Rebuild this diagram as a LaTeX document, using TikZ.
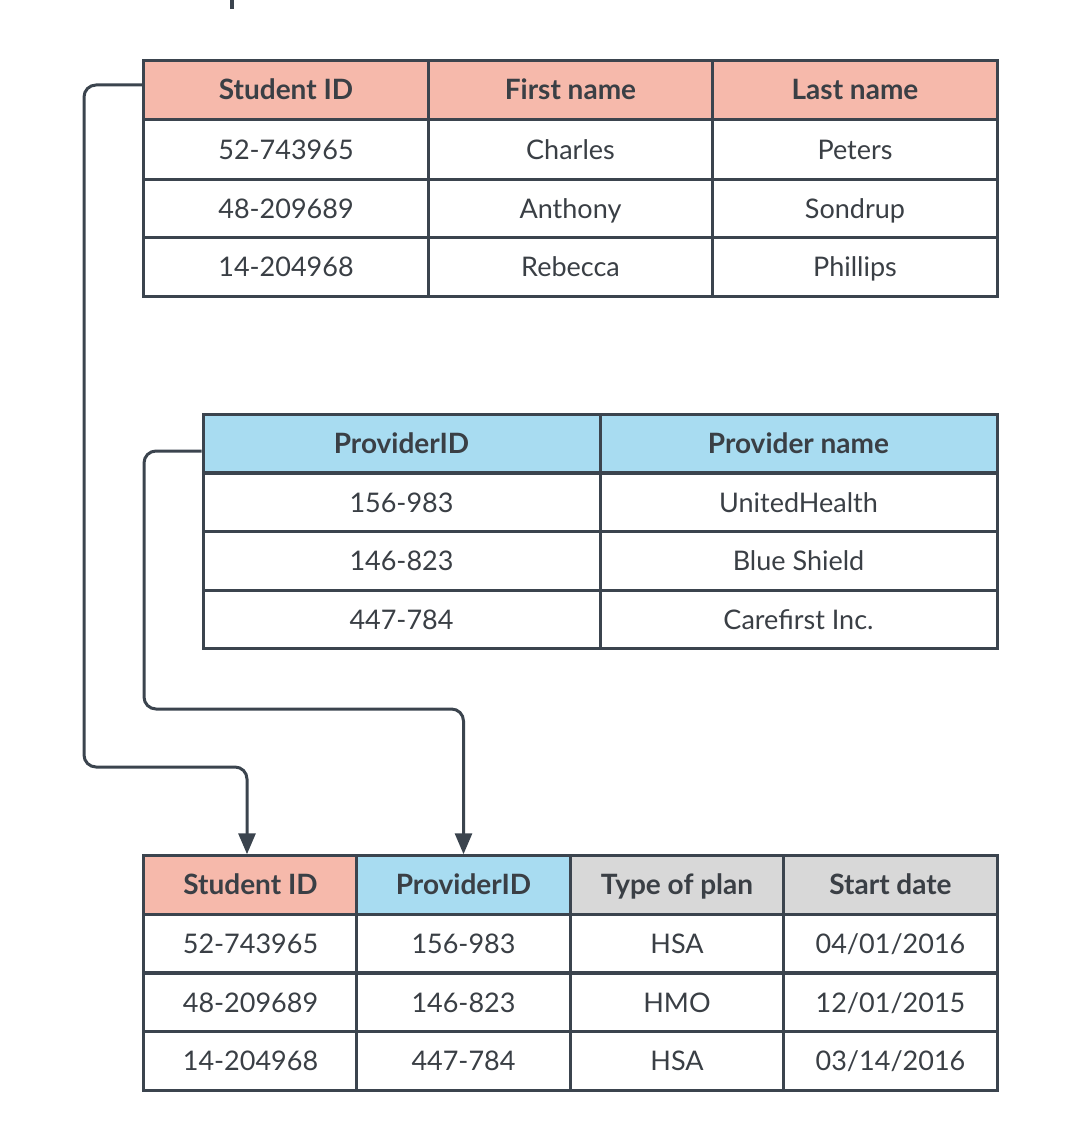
\documentclass[tikz,border=0pt]{standalone}
\usepackage{fontspec}
\setmainfont{Lato}
\usetikzlibrary{arrows.meta}

\definecolor{linec}{HTML}{3B444E}
\definecolor{textc}{HTML}{3A3F45}
\definecolor{studentred}{HTML}{F6B9AB}
\definecolor{providerblue}{HTML}{A8DCF1}
\definecolor{plangray}{HTML}{D8D8D8}

\tikzset{
  cell/.style={draw=linec, line width=3pt, fill=white, text=textc, inner sep=0pt,
    text height=19pt, text depth=0pt, font=\fontsize{27}{32}\selectfont},
  head/.style={cell, font=\fontsize{28}{32}\selectfont\bfseries},
  link/.style={draw=linec, line width=3pt, rounded corners=12pt, -{Triangle[width=17pt,length=21pt]}}
}

\begin{document}
\begin{tikzpicture}[x=1pt,y=-1pt]
			\useasboundingbox (0,0) rectangle (1080,1145);
			\draw[linec, line width=4pt] (232,0) -- (232,9);
			% students
			\begin{scope}[every node/.append style={minimum width=284.3pt, minimum height=59pt}]
			\node[head, fill=studentred] (a1) at (286,90.5) {Student ID};
			\node[head, fill=studentred] (a2) at (570.5,90.5) {First name};
			\node[head, fill=studentred] (a3) at (855,90.5) {Last name};
			\node[cell] (a11) at (286,149.5) {52-743965};
			\node[cell] (a12) at (570.5,149.5) {Charles};
			\node[cell] (a13) at (855,149.5) {Peters};
			\node[cell] (a21) at (286,208.5) {48-209689};
			\node[cell] (a22) at (570.5,208.5) {Anthony};
			\node[cell] (a23) at (855,208.5) {Sondrup};
			\node[cell] (a31) at (286,267) {14-204968};
			\node[cell] (a32) at (570.5,267) {Rebecca};
			\node[cell] (a33) at (855,267) {Phillips};
			\end{scope}
			% providers
			\begin{scope}[every node/.append style={minimum width=397pt, minimum height=58.7pt}]
			\node[head, fill=providerblue] (b1) at (401.5,443.5) {ProviderID};
			\node[head, fill=providerblue] (b2) at (798.5,443.5) {Provider name};
			\node[cell] (b11) at (401.5,502.5) {156-983};
			\node[cell] (b12) at (798.5,502.5) {UnitedHealth};
			\node[cell] (b21) at (401.5,561) {146-823};
			\node[cell] (b22) at (798.5,561) {Blue Shield};
			\node[cell] (b31) at (401.5,619.5) {447-784};
			\node[cell] (b32) at (798.5,619.5) {Carefirst Inc.};
			\end{scope}
			% plans
			\begin{scope}[every node/.append style={minimum width=213.3pt, minimum height=58.5pt}]
			\node[head, fill=studentred] (c1) at (250.5,885) {Student ID};
			\node[head, fill=providerblue] (c2) at (463.5,885) {ProviderID};
			\node[head, fill=plangray] (c3) at (677,885) {Type of plan};
			\node[head, fill=plangray] (c4) at (890.5,885) {Start date};
			\node[cell] (c11) at (250.5,943.5) {52-743965};
			\node[cell] (c12) at (463.5,943.5) {156-983};
			\node[cell] (c13) at (677,943.5) {HSA};
			\node[cell] (c14) at (890.5,943.5) {04/01/2016};
			\node[cell] (c21) at (250.5,1002.5) {48-209689};
			\node[cell] (c22) at (463.5,1002.5) {146-823};
			\node[cell] (c23) at (677,1002.5) {HMO};
			\node[cell] (c24) at (890.5,1002.5) {12/01/2015};
			\node[cell] (c31) at (250.5,1061) {14-204968};
			\node[cell] (c32) at (463.5,1061) {447-784};
			\node[cell] (c33) at (677,1061) {HSA};
			\node[cell] (c34) at (890.5,1061) {03/14/2016};
			\end{scope}
			% keys
			\draw[link] ([yshift=5.5pt]a1.west) -| (84,767) -| ([xshift=-3.5pt]c1.north);
			\draw[link] ([yshift=-7.5pt]b1.west) -| (144,709) -| (c2.north);
		\end{tikzpicture}
\end{document}
